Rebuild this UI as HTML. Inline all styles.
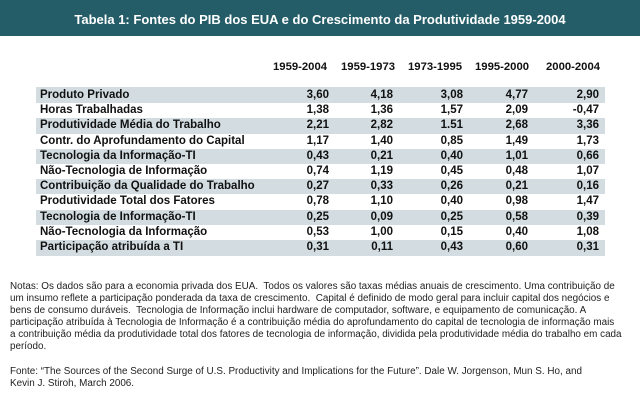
<!DOCTYPE html>
<html><head><meta charset="utf-8"><style>
body{margin:0;width:640px;height:404px;background:#fff;position:relative;overflow:hidden;font-family:"Liberation Sans",Arial,sans-serif;}
.hdr{position:absolute;left:0;top:0;width:640px;height:36px;background:#245d68;color:#fff;font-weight:bold;font-size:13px;text-align:center;line-height:40px;}
.ch{position:absolute;top:60px;font-weight:bold;font-size:11.3px;color:#111;white-space:nowrap;line-height:15px;}
.row{position:absolute;left:36px;width:569px;height:15px;}
.g{background:#d3dde1;}
.lab{position:absolute;left:40px;font-weight:bold;font-size:11.5px;color:#111;white-space:nowrap;line-height:15px;}
.v{position:absolute;font-weight:bold;font-size:11.5px;color:#111;text-align:right;width:50px;line-height:15px;}
.n{position:absolute;left:10px;font-size:9.9px;color:#222;white-space:nowrap;line-height:12px;}
</style></head><body>
<div class="hdr">Tabela 1: Fontes do PIB dos EUA e do Crescimento da Produtividade 1959-2004</div>
<div class="ch" style="left:273px">1959-2004</div>
<div class="ch" style="left:341px">1959-1973</div>
<div class="ch" style="left:408px">1973-1995</div>
<div class="ch" style="left:475px">1995-2000</div>
<div class="ch" style="left:546px">2000-2004</div>
<div id="t"></div>
<script>
var rows=[["Produto Privado","3,60","4,18","3,08","4,77","2,90"],
["Horas Trabalhadas","1,38","1,36","1,57","2,09","-0,47"],
["Produtividade Média do Trabalho","2,21","2,82","1.51","2,68","3,36"],
["Contr. do Aprofundamento do Capital","1,17","1,40","0,85","1,49","1,73"],
["Tecnologia da Informação-TI","0,43","0,21","0,40","1,01","0,66"],
["Não-Tecnologia de Informação","0,74","1,19","0,45","0,48","1,07"],
["Contribuição da Qualidade do Trabalho","0,27","0,33","0,26","0,21","0,16"],
["Produtividade Total dos Fatores","0,78","1,10","0,40","0,98","1,47"],
["Tecnologia de Informação-TI","0,25","0,09","0,25","0,58","0,39"],
["Não-Tecnologia da Informação","0,53","1,00","0,15","0,40","1,08"],
["Participação atribuída a TI","0,31","0,11","0,43","0,60","0,31"]];
var rx=[329,393,463,528,599],h="";
rows.forEach(function(r,i){var y=88+i*15.2;
h+='<div class="row'+(i%2==0?' g':'')+'" style="top:'+(i==0?87:y)+'px;height:'+(i==0?16:(i==10?16:15.2))+'px"></div>';
h+='<div class="lab" style="top:'+y+'px">'+r[0]+'</div>';
for(var j=0;j<5;j++)h+='<div class="v" style="top:'+y+'px;left:'+(rx[j]-50)+'px">'+r[j+1]+'</div>';});
document.getElementById('t').innerHTML=h;
</script>
<div class="n" style="top:281px">Notas: Os dados são para a economia privada dos EUA.&nbsp; Todos os valores são taxas médias anuais de crescimento. Uma contribuição de</div>
<div class="n" style="top:293px">um insumo reflete a participação ponderada da taxa de crescimento.&nbsp; Capital é definido de modo geral para incluir capital dos negócios e</div>
<div class="n" style="top:305px">bens de consumo duráveis.&nbsp; Tecnologia de Informação inclui hardware de computador, software, e equipamento de comunicação. A</div>
<div class="n" style="top:317px">participação atribuída à Tecnologia de Informação é a contribuição média do aprofundamento do capital de tecnologia de informação mais</div>
<div class="n" style="top:329px">a contribuição média da produtividade total dos fatores de tecnologia de informação, dividida pela produtividade média do trabalho em cada</div>
<div class="n" style="top:341px">período.</div>
<div class="n" style="top:366px">Fonte: “The Sources of the Second Surge of U.S. Productivity and Implications for the Future”. Dale W. Jorgenson, Mun S. Ho, and</div>
<div class="n" style="top:378px">Kevin J. Stiroh, March 2006.</div>
</body></html>
